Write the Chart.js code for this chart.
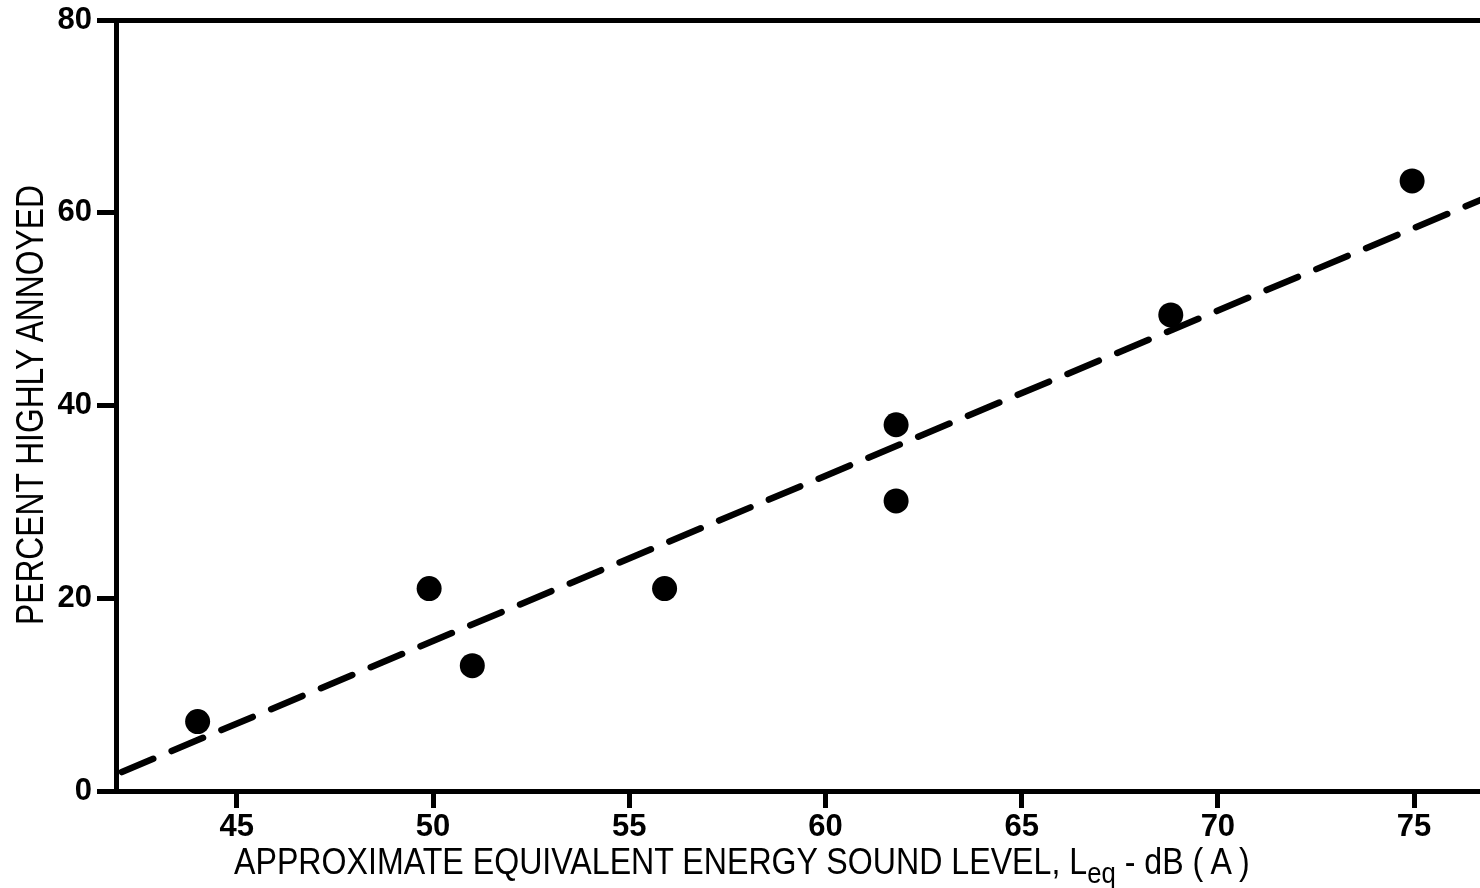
<!DOCTYPE html>
<html>
<head>
<meta charset="utf-8">
<script src="https://cdn.jsdelivr.net/npm/chart.js@4.4.1/dist/chart.umd.min.js"></script>
<style>
html,body{margin:0;padding:0;background:#fff;}
#wrap{position:relative;width:1480px;height:888px;overflow:hidden;background:#fff;}
#c{position:absolute;left:0;top:0;}
.ttl{position:absolute;left:0;top:0;font-family:"Liberation Sans",Arial,Helvetica,sans-serif;color:#000;white-space:nowrap;line-height:1;transform-origin:0 0;}
.sub{font-size:0.8em;position:relative;top:0.32em;}
</style>
</head>
<body>
<div id="wrap">
<canvas id="c" width="1480" height="888"></canvas>
<div id="yt" class="ttl" style="font-size:38px;">PERCENT HIGHLY ANNOYED</div>
<div id="xt" class="ttl" style="font-size:36px;">APPROXIMATE EQUIVALENT ENERGY SOUND LEVEL, L<span class="sub">eq</span> - dB ( A )</div>
</div>
<script>
// ---- data ----
const xTicks = [45, 50, 55, 60, 65, 70, 75];
const yTicks = [0, 20, 40, 60, 80];
const xRange = [41.92, 76.68];
const yRange = [0, 80];
const soundLevel = [44.0, 49.9, 51.0, 55.9, 61.8, 61.8, 68.8, 74.95];
const percentAnnoyed = [7.2, 21.0, 13.0, 21.0, 38.0, 30.1, 49.4, 63.3];
const fitX = [42.07, 76.68];
const fitY = [1.97, 61.3];

const FAMILY = '"Liberation Sans", Arial, Helvetica, sans-serif';
const tickFont = {family: FAMILY, size: 31, weight: 'bold'};

function noPad(s) {
  s.paddingLeft = 0; s.paddingRight = 0; s.paddingTop = 0; s.paddingBottom = 0;
}

const ctx = document.getElementById('c').getContext('2d');
new Chart(ctx, {
  data: {
    datasets: [
      {
        type: 'line',
        data: fitX.map((x, i) => ({x: x, y: fitY[i]})),
        borderColor: '#000',
        borderWidth: 6.5,
        borderDash: [34, 20],
        borderCapStyle: 'round',
        pointRadius: 0,
        fill: false,
        order: 2
      },
      {
        type: 'scatter',
        data: soundLevel.map((x, i) => ({x: x, y: percentAnnoyed[i]})),
        pointRadius: 12.5,
        pointBackgroundColor: '#000',
        pointBorderWidth: 0,
        order: 1
      }
    ]
  },
  options: {
    responsive: false,
    animation: false,
    layout: {autoPadding: false, padding: {top: 20, right: 0, left: 0, bottom: 0}},
    plugins: {legend: {display: false}, tooltip: {enabled: false}},
    scales: {
      x: {
        type: 'linear',
        position: 'bottom',
        min: xRange[0],
        max: xRange[1],
        afterBuildTicks: s => { s.ticks = xTicks.map(v => ({value: v})); },
        afterFit: s => { s.height = 97; noPad(s); },
        grid: {display: true, drawOnChartArea: false, drawTicks: true, tickLength: 17, lineWidth: 5, color: '#000'},
        border: {display: true, width: 5, color: '#000'},
        ticks: {color: '#000', font: tickFont, padding: 1, maxRotation: 0, autoSkip: false}
      },
      xTop: {
        type: 'linear',
        position: 'top',
        min: xRange[0],
        max: xRange[1],
        afterBuildTicks: s => { s.ticks = []; },
        afterFit: s => { s.height = 0; noPad(s); },
        grid: {display: true, drawOnChartArea: false, drawTicks: false, lineWidth: 5, color: 'rgba(0,0,0,0)'},
        border: {display: true, width: 5, color: '#000'},
        ticks: {display: false}
      },
      y: {
        type: 'linear',
        position: 'left',
        min: yRange[0],
        max: yRange[1],
        afterBuildTicks: s => { s.ticks = yTicks.map(v => ({value: v})); },
        afterFit: s => { s.width = 116; noPad(s); },
        grid: {display: true, drawOnChartArea: false, drawTicks: true, tickLength: 19, lineWidth: 5, color: '#000'},
        border: {display: true, width: 5, color: '#000'},
        ticks: {color: '#000', font: tickFont, padding: 5, autoSkip: false}
      }
    }
  }
});

// axis titles as HTML text, fitted to their boxes
function fitTitles() {
  const yt = document.getElementById('yt');
  const yw = yt.offsetWidth;
  const ys = 440 / yw;
  yt.style.transform = 'translate(11px, 625px) rotate(-90deg) scaleX(' + ys + ')';

  const xt = document.getElementById('xt');
  const xw = xt.offsetWidth;
  const xs = 1016 / xw;
  xt.style.transform = 'translate(234px, 844px) scaleX(' + xs + ')';
}
fitTitles();
</script>
</body>
</html>
